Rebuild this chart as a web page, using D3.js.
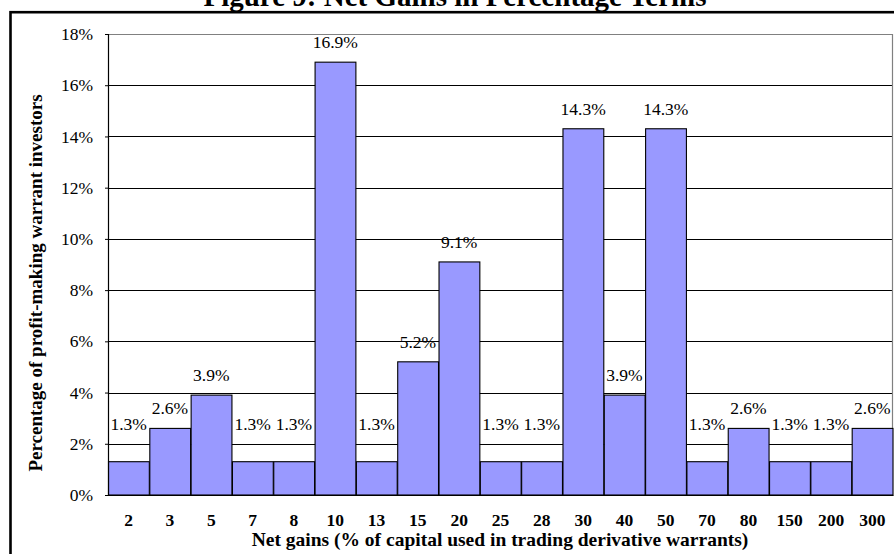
<!DOCTYPE html>
<html>
<head>
<meta charset="utf-8">
<script src="https://cdn.jsdelivr.net/npm/d3@7"></script>
<style>
  html, body { margin: 0; padding: 0; background: #fff; }
  svg { display: block; }
  svg text { font-family: 'Liberation Serif', 'Times New Roman', Times, serif !important; fill: #000; }
</style>
</head>
<body>
<svg id="chart" width="894" height="554"></svg>
<script>
// Net gains buckets (% of capital) and share of profit-making investors (%)
const categories = ["2", "3", "5", "7", "8", "10", "13", "15", "20", "25", "28", "30", "40", "50", "70", "80", "150", "200", "300"];
const shares = [1.3, 2.6, 3.9, 1.3, 1.3, 16.9, 1.3, 5.2, 9.1, 1.3, 1.3, 14.3, 3.9, 14.3, 1.3, 2.6, 1.3, 1.3, 2.6];
const yTicks = [0, 2, 4, 6, 8, 10, 12, 14, 16, 18];

const titleText = "Figure 9:  Net Gains in Percentage Terms";
const xTitle = "Net gains (% of capital used in trading derivative warrants)";
const yTitle = "Percentage of profit-making warrant investors";

const svg = d3.select("#chart");
const plot = { left: 108, right: 893, top: 34, bottom: 495 };

// Outer frame around the figure
svg.append("rect")
  .attr("x", 10.5).attr("y", 12.2)
  .attr("width", 900).attr("height", 600)
  .attr("fill", "none").attr("stroke", "#000").attr("stroke-width", 2.6);

// Title sits on top of the frame
svg.append("text")
  .attr("x", 455).attr("y", 6)
  .attr("text-anchor", "middle")
  .attr("font-size", 29).attr("font-weight", "bold")
  .text(titleText);

const x = d3.scaleBand().domain(categories).range([plot.left, plot.right]).padding(0);
const y = d3.scaleLinear().domain([0, 18]).range([plot.bottom, plot.top]);

// Gridlines
svg.append("g")
  .selectAll("line")
  .data(yTicks.filter(t => t > 0 && t < 18))
  .join("line")
  .attr("x1", plot.left).attr("x2", plot.right)
  .attr("y1", d => Math.round(y(d)) + 0.5).attr("y2", d => Math.round(y(d)) + 0.5)
  .attr("stroke", "#000").attr("stroke-width", 1);

// Plot area border (top and right in grey)
svg.append("path")
  .attr("d", `M${plot.left},${Math.round(y(18)) + 0.5}H${plot.right - 0.5}V${plot.bottom}`)
  .attr("fill", "none").attr("stroke", "#808080").attr("stroke-width", 1.2);

// Bars
svg.append("g")
  .selectAll("rect")
  .data(shares)
  .join("rect")
  .attr("x", (d, i) => x(categories[i]) + 0.5)
  .attr("y", d => y(d))
  .attr("width", x.bandwidth() - 0.5)
  .attr("height", d => y(0) - y(d))
  .attr("fill", "#9999FF")
  .attr("stroke", "#000").attr("stroke-width", 1.1);

// Y axis
const yAxis = d3.axisLeft(y)
  .tickValues(yTicks)
  .tickFormat(d => d + "%")
  .tickSize(3)
  .tickPadding(12);
const yg = svg.append("g").attr("transform", `translate(${plot.left},0)`).call(yAxis);
yg.attr("font-family", null);
yg.select(".domain").attr("stroke", "#000").attr("stroke-width", 1.2);
yg.selectAll(".tick line").attr("stroke", "#000");
yg.selectAll(".tick text")
  .attr("font-size", 17.5).attr("fill", "#000");

// X axis
const xAxis = d3.axisBottom(x).tickSize(0).tickPadding(19);
const xg = svg.append("g").attr("transform", `translate(0,${plot.bottom})`).call(xAxis);
xg.attr("font-family", null);
xg.select(".domain").attr("stroke", "#000").attr("stroke-width", 1.2);
xg.selectAll(".tick text")
  .attr("font-size", 17.5).attr("font-weight", "bold").attr("fill", "#000");

// Value labels above each bar, kept clear of the 2% gridline
svg.append("g")
  .selectAll("text")
  .data(shares)
  .join("text")
  .attr("x", (d, i) => x(categories[i]) + x.bandwidth() / 2)
  .attr("y", d => Math.min(y(d) - 14, y(2) - 14))
  .attr("text-anchor", "middle")
  .attr("font-size", 17.5)
  .text(d => d.toFixed(1) + "%");

// Axis titles
svg.append("text")
  .attr("x", 500).attr("y", 546)
  .attr("text-anchor", "middle")
  .attr("font-size", 19.5).attr("font-weight", "bold")
  .text(xTitle);

svg.append("text")
  .attr("transform", "translate(42,283) rotate(-90)")
  .attr("text-anchor", "middle")
  .attr("font-size", 19).attr("font-weight", "bold")
  .text(yTitle);
</script>
</body>
</html>
